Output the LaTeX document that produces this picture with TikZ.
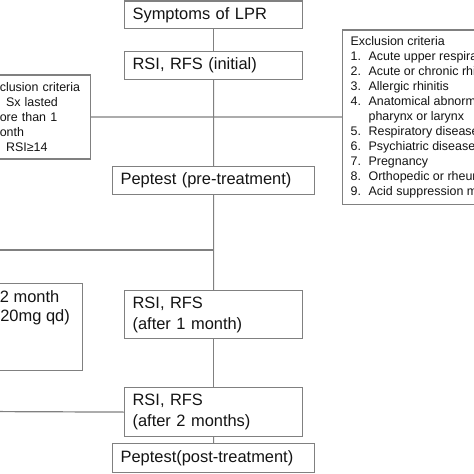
\documentclass[tikz,border=0pt]{standalone}
\usepackage{fontspec}
\setmainfont{Liberation Sans}
\definecolor{linegray}{RGB}{128,128,128}
\definecolor{txt}{RGB}{20,20,20}
\newcommand\exnum[1]{\makebox[18bp][l]{#1}}
\begin{document}
\begin{tikzpicture}[x=1bp,y=-1bp,
  box/.style={draw=linegray, line width=1.2bp, rectangle, inner xsep=8bp, inner ysep=0pt, align=left, text=txt},
  mainbox/.style={box, font=\fontsize{16.5}{21}\selectfont, text width=#1},
  smallbox/.style={box, font=\fontsize{12.5}{15}\selectfont},
  plaintext/.style={inner sep=0pt, text=txt, font=\fontsize{16.5}{21}\selectfont},
  conn/.style={draw=linegray, line width=1.2bp}]
\useasboundingbox (0,0) rectangle (474,474);
\fill[white] (0,0) rectangle (474,474);
\clip (0,0) rectangle (474,474);

% main column
\node[mainbox=162bp, minimum height=27.5bp, anchor=north west] (sym) at (124,0.5) {Symptoms of LPR};
\node[mainbox=162bp, minimum height=28bp, anchor=north west] (rsi0) at (124,51) {RSI, RFS (initial)};
\node[mainbox=186bp, minimum height=28bp, anchor=north west] (pep1) at (112,166) {Peptest (pre-treatment)};
\node[mainbox=162bp, minimum height=48bp, anchor=north west] (rsi1) at (124,290) {RSI, RFS\\(after 1 month)};
\node[mainbox=162bp, minimum height=49bp, anchor=north west] (rsi2) at (124,387) {RSI, RFS\\(after 2 months)};
\node[mainbox=186bp, minimum height=29bp, anchor=north west] (pep2) at (112,443) {Peptest(post-treatment)};

% side boxes
\node[smallbox, text width=93bp, minimum height=84bp, anchor=north east] (inc) at (91,74.5)
  {Inclusion criteria\\1. Sx lasted\\more than 1\\month\\2. RSI≥14};
\node[smallbox, minimum height=174bp, anchor=north west] (exc) at (342,29.5)
  {Exclusion criteria\\
   \exnum{1.}Acute upper respiratory infection\\
   \exnum{2.}Acute or chronic rhinosinusitis\\
   \exnum{3.}Allergic rhinitis\\
   \exnum{4.}Anatomical abnormality of\\
   \exnum{}pharynx or larynx\\
   \exnum{5.}Respiratory disease\\
   \exnum{6.}Psychiatric disease\\
   \exnum{7.}Pregnancy\\
   \exnum{8.}Orthopedic or rheumatic disease\\
   \exnum{9.}Acid suppression medication};
\node[box, minimum width=170bp, minimum height=87bp, anchor=north east] (ppi) at (83,283) {};
\node[plaintext, anchor=base east] (ppia) at (59.5,302.3) {2 month};
\node[plaintext, anchor=base east] (ppib) at (70,321.7) {(20mg qd)};

% connectors
\coordinate (l1) at (-20,250);
\coordinate (l2) at (-20,411.5);
\draw[conn] (sym) -- (rsi0);
\draw[conn] (rsi0) -- (pep1);
\draw[conn] (pep1) -- (rsi1);
\draw[conn] (rsi1) -- (rsi2);
\draw[conn] (rsi2) -- (pep2);
\draw[conn] (inc.east) -- (exc.west);
\draw[conn] (l1) -- (l1 -| pep1);
\draw[conn] (l2) -- (rsi2.west);
\end{tikzpicture}
\end{document}
